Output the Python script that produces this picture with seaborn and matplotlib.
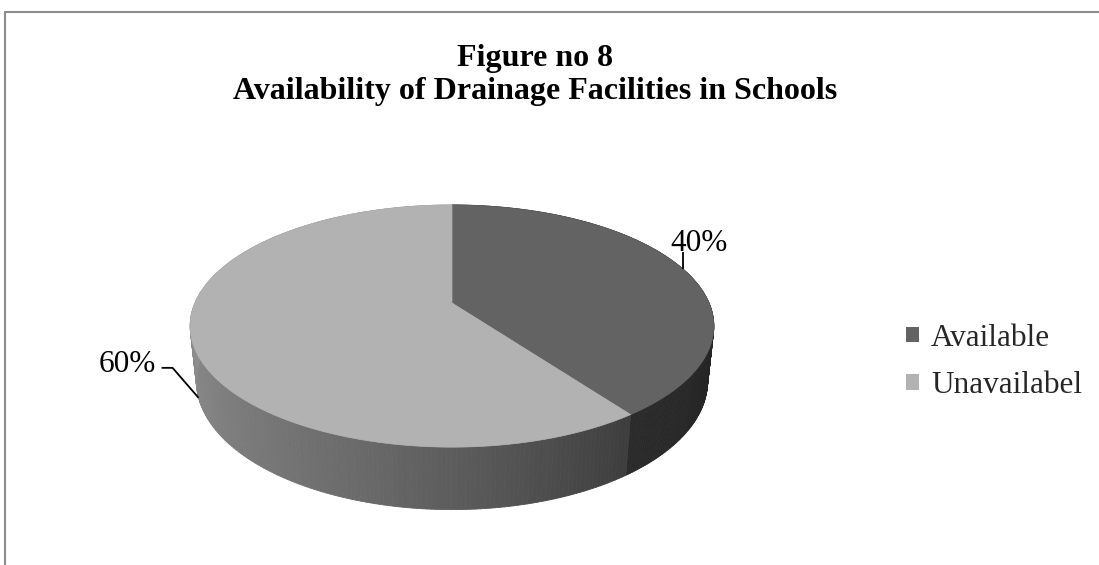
import numpy as np
import matplotlib
matplotlib.use("Agg")
import matplotlib.pyplot as plt
from matplotlib.patches import Polygon, Patch
from matplotlib.collections import PolyCollection
from matplotlib.lines import Line2D
import seaborn as sns

# ---- data -------------------------------------------------------------
categories = ["Available", "Unavailabel"]
shares = [40, 60]
title_lines = ["Figure no 8", "Availability of Drainage Facilities in Schools"]

# ---- style ------------------------------------------------------------
sns.set_theme(style="white")
plt.rcParams["font.family"] = ["Liberation Serif", "DejaVu Serif"]

top_colors = ["#636363", "#b2b2b2"]
# side shading (grey level) against angle in degrees, per slice
side_shade = [
    ([90, 144], [0.13, 0.17]),
    ([144, 170, 195, 220, 245, 270], [0.24, 0.33, 0.41, 0.47, 0.52, 0.56]),
]

W, H, DPI = 1099, 565, 100
fig = plt.figure(figsize=(W / DPI, H / DPI), dpi=DPI)
fig.patch.set_facecolor("white")

# ---- perspective camera for the 3-D disc -------------------------------
ELEV = np.radians(27.0)
DIST = 4.68
THICK = 0.242
SCALE = 1203.0           # pixels per projected unit
APEX_PX = (452, 303)     # pixel position of the disc centre


def project(theta, z):
    """theta: clockwise from the far side; z: 0 on the top face."""
    x, y = np.sin(theta), np.cos(theta)
    depth = DIST + y * np.cos(ELEV) - z * np.sin(ELEV)
    return x / depth, (y * np.sin(ELEV) + z * np.cos(ELEV)) / depth


box = (140, 760, 190, 530)   # left, right, top, bottom in pixels
ax = fig.add_axes([box[0] / W, 1 - box[3] / H,
                   (box[1] - box[0]) / W, (box[3] - box[2]) / H])
ax.set_xlim((box[0] - APEX_PX[0]) / SCALE, (box[1] - APEX_PX[0]) / SCALE)
ax.set_ylim(-(box[3] - APEX_PX[1]) / SCALE, (APEX_PX[1] - box[2]) / SCALE)
ax.set_axis_off()

fractions = np.array(shares, dtype=float) / sum(shares)
edges = np.concatenate([[0.0], np.cumsum(fractions)]) * 2 * np.pi

# side walls
for i in range(len(shares)):
    t = np.linspace(edges[i], edges[i + 1], 240)
    xt, yt = project(t, 0.0)
    xb, yb = project(t, -THICK)
    quads, cols = [], []
    for j in range(len(t) - 1):
        quads.append([(xt[j], yt[j]), (xt[j + 1], yt[j + 1]),
                      (xb[j + 1], yb[j + 1]), (xb[j], yb[j])])
        deg = np.degrees(0.5 * (t[j] + t[j + 1]))
        g = np.interp(deg, *side_shade[i])
        cols.append((g, g, g))
    ax.add_collection(PolyCollection(quads, facecolors=cols, edgecolors=cols,
                                     linewidths=0.6, zorder=1))

# top faces
for i in range(len(shares)):
    t = np.linspace(edges[i], edges[i + 1], 300)
    xt, yt = project(t, 0.0)
    pts = np.column_stack([np.r_[0.0, xt], np.r_[0.0, yt]])
    ax.add_patch(Polygon(pts, closed=True, facecolor=top_colors[i],
                         edgecolor=top_colors[i], linewidth=0.5, zorder=2))

# data labels with leader lines (offsets in pixels)
label_fs = 22.5
px = 1.0 / SCALE
for i, v in enumerate(shares):
    mid = 0.5 * (edges[i] + edges[i + 1])
    if np.cos(mid) > 0:
        ax0, ay0 = project(mid, 0.0)
        path = [(ax0, ay0), (ax0, ay0 + 17 * px)]
        ax.text(ax0 + 16 * px, ay0 + 18 * px, f"{v}%", fontsize=label_fs,
                ha="center", va="baseline", color="black", zorder=5)
    else:
        ax0, ay0 = project(mid, -THICK)
        path = [(ax0, ay0), (ax0 - 26 * px, ay0 + 30 * px),
                (ax0 - 37 * px, ay0 + 30 * px)]
        ax.text(ax0 - 43 * px, ay0 + 26 * px, f"{v}%", fontsize=label_fs,
                ha="right", va="baseline", color="black", zorder=5)
    xs, ys = zip(*path)
    ax.plot(xs, ys, color="black", linewidth=1.3, zorder=5,
            solid_capstyle="butt")

# title
fig.text(535 / W, 1 - 66 / H, title_lines[0], ha="center", va="baseline",
         fontsize=23, fontweight="bold", color="black")
fig.text(535 / W, 1 - 99 / H, title_lines[1], ha="center", va="baseline",
         fontsize=23, fontweight="bold", color="black")

# legend
handles = [Patch(facecolor=c, edgecolor="none") for c in top_colors]
fig.legend(handles, categories, loc="center left",
           bbox_to_anchor=(906 / W, 1 - 362 / H), frameon=False,
           fontsize=label_fs, handlelength=0.4, handleheight=0.4,
           handletextpad=0.4, labelspacing=0.6, borderpad=0.0,
           borderaxespad=0.0)

# chart border (top and left edges)
border = "#8c8c8c"
fig.add_artist(Line2D([5 / W, 1.0], [1 - 12 / H, 1 - 12 / H],
                      transform=fig.transFigure, color=border, linewidth=1.5))
fig.add_artist(Line2D([5 / W, 5 / W], [0.0, 1 - 12 / H],
                      transform=fig.transFigure, color=border, linewidth=1.5))

fig.savefig("out.png", dpi=DPI, facecolor="white")
